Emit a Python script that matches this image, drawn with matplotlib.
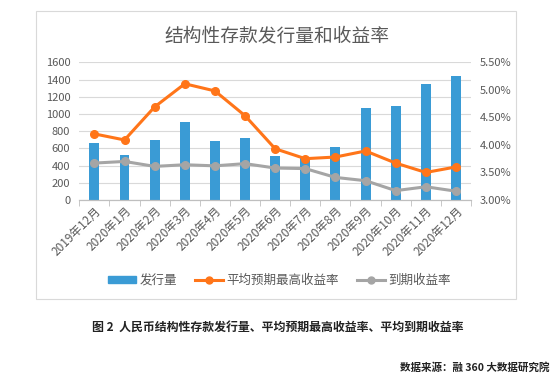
import numpy as np
import matplotlib.pyplot as plt
from matplotlib.patches import Rectangle
from matplotlib.lines import Line2D
from matplotlib.ticker import FuncFormatter

plt.rcParams['font.family'] = ['Noto Sans CJK SC', 'DejaVu Sans']

# 数据
meses = ['2019年12月', '2020年1月', '2020年2月', '2020年3月', '2020年4月',
         '2020年5月', '2020年6月', '2020年7月', '2020年8月', '2020年9月',
         '2020年10月', '2020年11月', '2020年12月']
faxingliang = [668, 525, 699, 912, 680, 715, 509, 505, 618, 1072, 1095, 1352, 1445]
zuigao = [4.20, 4.09, 4.69, 5.11, 4.98, 4.53, 3.93, 3.75, 3.78, 3.89, 3.67, 3.50, 3.60]
daoqi = [3.67, 3.70, 3.61, 3.64, 3.62, 3.66, 3.58, 3.57, 3.41, 3.35, 3.17, 3.24, 3.16]

azul = '#3A9BD5'
naranja = '#FF7519'
gris = '#A5A5A5'
texto = '#595959'

fig = plt.figure(figsize=(5.59, 3.91), dpi=100)

# marco del gráfico
fig.patches.append(Rectangle((0.0639, 0.2353), 0.860, 0.7373, transform=fig.transFigure,
                             facecolor='none', edgecolor='#D9D9D9', linewidth=0.8))

ax = fig.add_axes([0.1419, 0.4885, 0.7007, 0.3522])
ax2 = ax.twinx()
x = np.arange(len(meses))

ax.bar(x, faxingliang, width=0.33, color=azul, zorder=2)
ax.set_ylim(0, 1600)
ax.set_yticks(np.arange(0, 1601, 200))
ax.set_xlim(-0.5, len(meses) - 0.5)
ax.grid(axis='y', color='#D9D9D9', linewidth=0.8, zorder=0)
ax.set_axisbelow(True)

ax2.plot(x, zuigao, color=naranja, lw=2.2, marker='o', ms=5.5, zorder=3)
ax2.plot(x, daoqi, color=gris, lw=2.2, marker='o', ms=5.5, zorder=3)
ax2.set_ylim(3.0, 5.5)
ax2.set_yticks(np.arange(3.0, 5.51, 0.5))
ax2.yaxis.set_major_formatter(FuncFormatter(lambda v, p: f'{v:.2f}%'))

for a in (ax, ax2):
    for s in ['top', 'left', 'right']:
        a.spines[s].set_visible(False)
    a.spines['bottom'].set_color('#BFBFBF')
    a.tick_params(axis='y', length=0, colors=texto, labelsize=8, pad=6.5)

ax.set_xticks(x)
ax.set_xticklabels(meses, rotation=45, ha='right', rotation_mode='anchor', fontsize=8.5, color=texto)
ax.tick_params(axis='x', length=0, pad=3)
ax.set_xticks(np.arange(-0.5, len(meses), 1), minor=True)
ax.tick_params(axis='x', which='minor', length=4, color='#BFBFBF')

fig.text(0.4955, 0.9087, '结构性存款发行量和收益率', ha='center', va='center', fontsize=13.5, color=texto)

handles = [Rectangle((0, 0), 1, 1, color=azul),
           Line2D([0], [0], color=naranja, lw=2.2, marker='o', ms=5),
           Line2D([0], [0], color=gris, lw=2.2, marker='o', ms=5)]
fig.legend(handles, ['发行量', '平均预期最高收益率', '到期收益率'], loc='center',
           bbox_to_anchor=(0.5, 0.282), ncol=3, frameon=False, fontsize=9,
           labelcolor=texto, handlelength=2.2, handleheight=0.45, columnspacing=1.45,
           handletextpad=0.3)

fig.text(0.497, 0.163, '图 2  人民币结构性存款发行量、平均预期最高收益率、平均到期收益率',
         ha='center', va='center', fontsize=8.6, fontweight='bold', color='#222222')
fig.text(0.982, 0.059, '数据来源：融 360 大数据研究院', ha='right', va='center',
         fontsize=7.6, fontweight='bold', color='#222222')

fig.savefig('out.png', dpi=100)
